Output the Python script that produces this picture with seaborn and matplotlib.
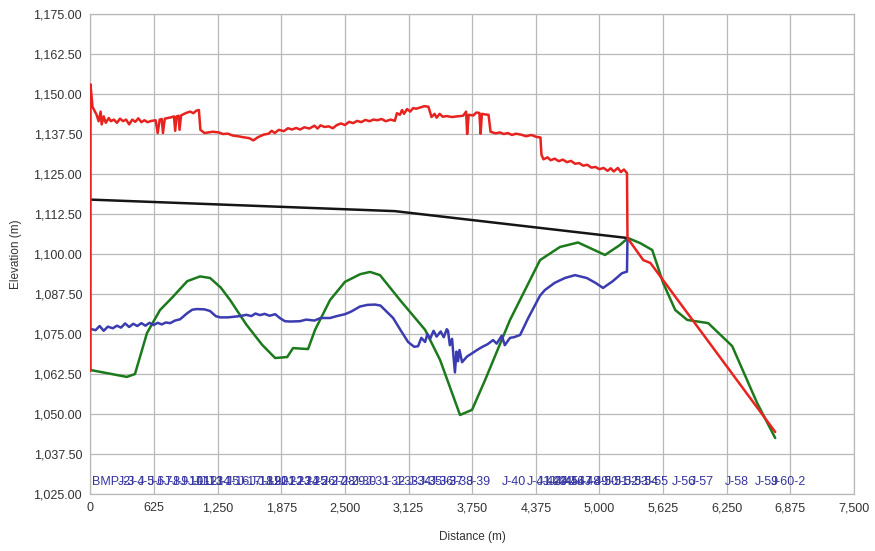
import matplotlib
matplotlib.use("Agg")
import matplotlib.pyplot as plt
import matplotlib.ticker as mticker
import seaborn as sns
import pandas as pd

# Hydraulic grade (red)
hgl_x = [0, 0, 20, 60, 80, 100, 110, 130, 150, 180, 200, 230, 260, 290, 320, 350, 380, 410, 440, 470,
         500, 530, 560, 600, 640, 660, 680, 700, 712, 730, 760, 790, 820, 832, 845, 865, 875, 890, 920, 950,
         980, 1010, 1040, 1065, 1080, 1120, 1160, 1200, 1260, 1300, 1350, 1400, 1450, 1500, 1560, 1600, 1640, 1700, 1750, 1780,
         1810, 1850, 1900, 1940, 1980, 2020, 2060, 2100, 2150, 2200, 2230, 2260, 2300, 2340, 2380, 2420, 2460, 2500, 2540, 2580,
         2620, 2660, 2700, 2740, 2780, 2820, 2860, 2900, 2950, 2990, 3010, 3040, 3060, 3080, 3110, 3140, 3170, 3200, 3240, 3280,
         3320, 3350, 3380, 3400, 3430, 3460, 3500, 3550, 3600, 3660, 3690, 3700, 3715, 3760, 3790, 3820, 3832, 3845, 3880, 3910,
         3930, 3980, 4020, 4060, 4100, 4140, 4180, 4230, 4280, 4330, 4380, 4420, 4430, 4450, 4490, 4520, 4560, 4600, 4640, 4680,
         4720, 4760, 4800, 4840, 4880, 4920, 4960, 5000, 5040, 5080, 5110, 5140, 5180, 5210, 5240, 5270, 5275, 5430, 5500, 6726]
hgl_y = [1063.5, 1153, 1146, 1143.5, 1141.5, 1144.5, 1140.5, 1143, 1141, 1142.5, 1141.5, 1142, 1141, 1142.3, 1141.5, 1142, 1140.5, 1142, 1141.3, 1142.4,
         1141.2, 1141.8, 1141.2, 1141.6, 1141.8, 1137.8, 1142, 1142.2, 1137.8, 1142.3, 1142.5, 1142.7, 1143, 1138.5, 1143, 1143.2, 1138.8, 1143.3, 1143.8, 1144.2,
         1144.5, 1144, 1144.8, 1145, 1138.8, 1137.8, 1138, 1138.2, 1138, 1137.5, 1137.6, 1137, 1136.8, 1136.5, 1136.2, 1135.5, 1136.4, 1137.3, 1137.6, 1138.5,
         1137.8, 1138.8, 1138.4, 1139.3, 1138.9, 1139.4, 1138.9, 1139.6, 1139.2, 1140.1, 1139.2, 1140.2, 1139.7, 1139.9, 1139.3, 1140.3, 1140.8, 1140.3, 1141.3, 1140.9,
         1141.6, 1141.2, 1141.9, 1141.5, 1142.0, 1141.8, 1142.2, 1141.5, 1142.0, 1141.6, 1144.0, 1143.5, 1145, 1143.8, 1145.3, 1144.5, 1145.6, 1145.4, 1145.8, 1146.2,
         1146.0, 1142.8, 1143.8, 1142.6, 1143.8, 1142.9, 1143.1, 1142.8, 1143.0, 1143.2, 1144.5, 1137.5, 1143.5, 1143.3, 1144.2, 1144.1, 1137.6, 1143.8, 1143.6, 1143.5,
         1138.2, 1137.7, 1138, 1137.5, 1137.8, 1137.2, 1137.6, 1137.3, 1136.8, 1137.2, 1136.6, 1136.4, 1131, 1129.6, 1130.2, 1129.3, 1129.8, 1129.0, 1129.5, 1128.7,
         1129.1, 1128.2, 1128.4, 1127.6, 1127.9, 1127.0, 1127.2, 1126.5, 1126.9, 1126.0, 1126.8, 1125.8, 1126.9, 1125.6, 1126.4, 1125.3, 1105, 1098.1, 1097.2, 1044.4]

# Black line
blk_x = [0, 2990, 5275]
blk_y = [1117, 1113.4, 1105]

# Ground profile (green)
grd_x = [0, 357, 437, 555, 683, 800, 950, 1076, 1175, 1280, 1372, 1530, 1687, 1814, 1932, 1990, 2137, 2206, 2353, 2500,
         2650, 2746, 2844, 3041, 3287, 3434, 3630, 3748, 3876, 4121, 4416, 4612, 4789, 5054, 5200, 5280, 5400, 5518, 5626, 5744,
         5862, 6068, 6303, 6549, 6726]
grd_y = [1063.75, 1061.6, 1062.5, 1075.3, 1082.5, 1086.3, 1091.5, 1093.0, 1092.5, 1089.5, 1085.6, 1078, 1071.6, 1067.5, 1067.8, 1070.6, 1070.3, 1076.3, 1085.6, 1091.3,
         1093.7, 1094.4, 1093.4, 1085.6, 1076.3, 1066.9, 1049.7, 1051.3, 1060.6, 1079.4, 1098.1, 1102.2, 1103.6, 1099.7, 1102.8, 1105, 1103.4, 1101.25, 1090.9, 1082.5,
         1079.4, 1078.4, 1071.25, 1053.4, 1042.5]

# Pipe profile (blue)
pipe_x = [0, 50, 90, 130, 170, 220, 260, 300, 340, 380, 420, 460, 500, 540, 580, 620, 660, 700, 740, 783,
          830, 880, 950, 1000, 1046, 1120, 1174, 1230, 1273, 1350, 1410, 1470, 1530, 1580, 1620, 1666, 1710, 1760, 1814, 1860,
          1910, 1960, 2058, 2120, 2200, 2260, 2353, 2420, 2500, 2560, 2648, 2720, 2795, 2848, 2893, 2973, 3050, 3120, 3180, 3218,
          3250, 3287, 3310, 3336, 3370, 3400, 3440, 3470, 3500, 3512, 3530, 3552, 3566, 3580, 3595, 3610, 3625, 3650, 3700, 3750,
          3797, 3850, 3900, 3955, 3990, 4040, 4070, 4121, 4160, 4220, 4300, 4416, 4464, 4560, 4660, 4760, 4875, 4960, 5035, 5130,
          5221, 5270, 5275]
pipe_y = [1076.6, 1076.2, 1077.5, 1076.0, 1077.3, 1076.8, 1077.6, 1077.0, 1078.3, 1077.2, 1078.2, 1077.5, 1078.4, 1077.6, 1078.5, 1077.8, 1078.5, 1078.0, 1078.6, 1078.4,
          1079.2, 1079.6, 1081.5, 1082.6, 1082.8, 1082.7, 1082.2, 1080.6, 1080.2, 1080.2, 1080.4, 1080.6, 1081, 1080.6, 1081.4, 1080.9, 1081.3, 1080.7, 1081.2, 1080.0,
          1079.0, 1078.9, 1079.0, 1079.5, 1079.2, 1080, 1080.0, 1080.6, 1081.2, 1082.0, 1083.6, 1084.1, 1084.2, 1083.9, 1082.5, 1080.0, 1076.0, 1072.5, 1071.0, 1071.2,
          1073.8, 1072.5, 1075.0, 1073.5, 1076.0, 1074.2, 1075.8, 1074.0, 1076.5, 1076.0, 1071.5, 1073.5, 1068, 1063.0, 1069.5, 1066.5, 1070, 1066.2, 1068.0, 1069.0,
          1070.0, 1071.0, 1071.8, 1073.1, 1072.0, 1074.5, 1071.5, 1073.8, 1074.0, 1074.7, 1080, 1087.0, 1088.75, 1091.0, 1092.5, 1093.4, 1092.5, 1091.0, 1089.4, 1091.5,
          1094.0, 1094.5, 1105]

# Node labels along the bottom
node_names = ["BMP-2", "J-3", "J-4", "J-5", "J-6", "J-7", "J-8", "J-9", "J-10", "J-11", "J-12", "J-13", "J-14", "J-15",
              "J-16", "J-17", "J-18", "J-19", "J-20", "J-21", "J-22", "J-23", "J-24", "J-25", "J-26", "J-27", "J-28", "J-29",
              "J-30", "J-31", "J-32", "J-33", "J-34", "J-35", "J-36", "J-37", "J-38", "J-39", "J-40", "J-41", "J-42", "J-43",
              "J-44", "J-45", "J-46", "J-47", "J-48", "J-49", "J-50", "J-51", "J-52", "J-53", "J-54", "J-55", "J-56", "J-57",
              "J-58", "J-59", "J-60-2"]
node_dist = [15, 270, 369, 467, 565, 644, 722, 801, 880, 958, 1017, 1076, 1145, 1233,
             1332, 1449, 1567, 1646, 1715, 1784, 1862, 1941, 2020, 2098, 2177, 2275, 2370, 2470,
             2580, 2700, 2860, 2990, 3120, 3230, 3330, 3430, 3530, 3700, 4045, 4290, 4380, 4440,
             4500, 4560, 4620, 4700, 4780, 4860, 4950, 5050, 5150, 5250, 5350, 5450, 5714, 5890,
             6234, 6530, 6680]

sns.set_style("whitegrid")
plt.rcParams["font.family"] = ["Liberation Sans", "DejaVu Sans"]

fig = plt.figure(figsize=(8.75, 5.51), dpi=100)
ax = fig.add_axes([0.1034, 0.1034, 0.8726, 0.8712])

line_kw = dict(sort=False, estimator=None, ax=ax, lw=1.8)
sns.lineplot(x=pd.Series(grd_x), y=pd.Series(grd_y), color="#1c7a1c", zorder=3, **line_kw)
sns.lineplot(x=pd.Series(pipe_x), y=pd.Series(pipe_y), color="#3a3cb0", zorder=3, **line_kw)
sns.lineplot(x=pd.Series(blk_x), y=pd.Series(blk_y), color="#151515", zorder=4, **line_kw)
sns.lineplot(x=pd.Series(hgl_x), y=pd.Series(hgl_y), color="#e8231f", zorder=5, **line_kw)

for name, d in zip(node_names, node_dist):
    ax.text(d, 1027.0, name, color="#34359e", fontsize=9, ha="left", va="bottom", zorder=6)

ax.set_xlim(0, 7500)
ax.set_ylim(1025, 1175)
ax.xaxis.set_major_locator(mticker.MultipleLocator(625))
ax.yaxis.set_major_locator(mticker.MultipleLocator(12.5))
ax.xaxis.set_major_formatter(mticker.StrMethodFormatter("{x:,.0f}"))
ax.yaxis.set_major_formatter(mticker.StrMethodFormatter("{x:,.2f}"))
ax.tick_params(labelsize=9, colors="#333333", length=0, pad=6)
ax.grid(True, color="#b8b8b8", lw=0.9)
for s in ax.spines.values():
    s.set_color("#b8b8b8")
    s.set_linewidth(0.9)

ax.set_xlabel("Distance (m)", fontsize=8.5, color="#333333", labelpad=12)
ax.set_ylabel("Elevation (m)", fontsize=8.5, color="#333333", labelpad=8)

fig.savefig("out.png", dpi=100)
